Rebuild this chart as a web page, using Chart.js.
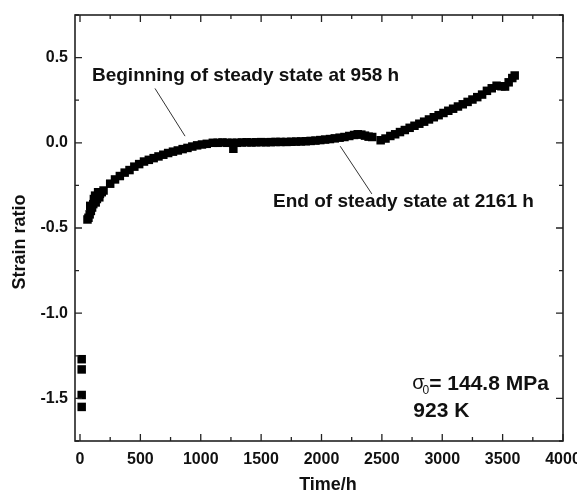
<!DOCTYPE html>
<html>
<head>
<meta charset="utf-8">
<script src="https://cdn.jsdelivr.net/npm/chart.js@4/dist/chart.umd.min.js"></script>
<style>
  html, body { margin: 0; padding: 0; background: #fff; }
  #wrap { width: 577px; height: 493px; }
</style>
</head>
<body>
<div id="wrap"><canvas id="creepChart" width="577" height="493"></canvas></div>
<script>
// 1. Messdaten: Zeit (h) und Dehnungsverhältnis
const hours = [
  14, 14, 14, 14,
  62, 70, 80, 85, 90, 100, 110, 115, 125, 130, 140, 150, 160, 165, 180, 195,
  250, 290, 330, 370, 410, 450, 490, 530, 570, 610, 650, 690, 730, 770, 810, 850, 890, 930, 970, 1010, 1050,
  1100, 1140, 1180, 1220, 1260, 1270, 1300, 1340, 1380, 1420, 1460, 1500, 1540, 1580, 1620, 1660,
  1710, 1750, 1790, 1830, 1870, 1910, 1950, 1990, 2030, 2070, 2110, 2150, 2190, 2230, 2270, 2300, 2330, 2360, 2390, 2420,
  2490, 2530, 2570, 2610, 2650, 2690, 2730, 2770, 2810, 2850, 2890, 2930, 2970, 3010, 3050, 3090, 3130, 3170, 3210,
  3250, 3290, 3330, 3370, 3410, 3450, 3490, 3520, 3550, 3580, 3600
];
const strainRatio = [
  -1.27, -1.33, -1.48, -1.55,
  -0.45, -0.44, -0.42, -0.37, -0.40, -0.38, -0.36, -0.33, -0.31, -0.35, -0.33, -0.29, -0.32, -0.30, -0.29, -0.28,
  -0.24, -0.215, -0.195, -0.175, -0.16, -0.14, -0.125, -0.11, -0.10, -0.09, -0.08, -0.07, -0.06, -0.052, -0.045, -0.037, -0.03, -0.022, -0.015, -0.01, -0.006,
  0.0, 0.0, 0.002, 0.0, 0.0, -0.035, 0.0, 0.002, 0.003, 0.002, 0.003, 0.004, 0.003, 0.004, 0.005, 0.005,
  0.005, 0.006, 0.007, 0.008, 0.009, 0.011, 0.013, 0.016, 0.019, 0.022, 0.026, 0.03, 0.034, 0.04, 0.046, 0.05, 0.048, 0.042, 0.036, 0.034,
  0.015, 0.025, 0.04, 0.05, 0.063, 0.075, 0.088, 0.10, 0.112, 0.124, 0.137, 0.15, 0.162, 0.175, 0.188, 0.20, 0.213, 0.226, 0.24,
  0.254, 0.268, 0.283, 0.305, 0.32, 0.335, 0.332, 0.33, 0.355, 0.38, 0.395
];

// Achsenbeschriftungen
const xTicks = [0, 500, 1000, 1500, 2000, 2500, 3000, 3500, 4000];
const yTicks = [-1.5, -1.0, -0.5, 0.0, 0.5];

const points = hours.map((h, i) => ({ x: h, y: strainRatio[i] }));

const FONT = 'Liberation Sans, Arial, sans-serif';
const tickFont = { family: FONT, size: 16, weight: 'bold' };

// 2. Rahmen mit nach innen zeigenden Teilstrichen, Achsentitel und Beschriftungen
const framePlugin = {
  id: 'framePlugin',
  afterDatasetsDraw(chart) {
    const { ctx, chartArea: a, scales: { x, y } } = chart;
    ctx.save();
    ctx.strokeStyle = '#222';
    ctx.lineWidth = 1.6;
    ctx.strokeRect(a.left, a.top, a.right - a.left, a.bottom - a.top);

    ctx.lineWidth = 1.3;
    ctx.beginPath();
    for (let t = 0; t <= 4000; t += 250) {
      const px = x.getPixelForValue(t);
      const len = t % 500 === 0 ? 7 : 4;
      ctx.moveTo(px, a.bottom); ctx.lineTo(px, a.bottom - len);
      ctx.moveTo(px, a.top); ctx.lineTo(px, a.top + len);
    }
    for (let v = -1.75; v <= 0.75; v += 0.25) {
      const py = y.getPixelForValue(v);
      const len = Math.abs(v * 2 - Math.round(v * 2)) < 1e-6 ? 7 : 4;
      ctx.moveTo(a.left, py); ctx.lineTo(a.left + len, py);
      ctx.moveTo(a.right, py); ctx.lineTo(a.right - len, py);
    }
    ctx.stroke();

    // Hinweislinien
    ctx.strokeStyle = '#333';
    ctx.lineWidth = 1;
    ctx.beginPath();
    ctx.moveTo(x.getPixelForValue(621), y.getPixelForValue(0.319));
    ctx.lineTo(x.getPixelForValue(870), y.getPixelForValue(0.039));
    ctx.moveTo(x.getPixelForValue(2155), y.getPixelForValue(-0.02));
    ctx.lineTo(x.getPixelForValue(2417), y.getPixelForValue(-0.30));
    ctx.stroke();

    ctx.fillStyle = '#111';
    ctx.textBaseline = 'middle';

    // Achsentitel
    ctx.font = 'bold 18px ' + FONT;
    ctx.textAlign = 'center';
    ctx.fillText('Time/h', 328, 485);
    ctx.save();
    ctx.translate(20, 242);
    ctx.rotate(-Math.PI / 2);
    ctx.fillText('Strain ratio', 0, 0);
    ctx.restore();

    // Texte im Diagramm
    ctx.textAlign = 'left';
    ctx.font = 'bold 19px ' + FONT;
    ctx.fillText('Beginning of steady state at 958 h', x.getPixelForValue(99), y.getPixelForValue(0.396));
    ctx.fillText('End of steady state at 2161 h', x.getPixelForValue(1599), y.getPixelForValue(-0.347));

    let sx = x.getPixelForValue(2751);
    const sy = y.getPixelForValue(-1.414);
    ctx.font = '20px ' + FONT;
    ctx.fillText('σ', sx, sy);
    sx += ctx.measureText('σ').width;
    ctx.font = '12px ' + FONT;
    ctx.fillText('0', sx - 2, sy + 7);
    sx += ctx.measureText('0').width - 2;
    ctx.font = 'bold 21px ' + FONT;
    ctx.fillText('= 144.8 MPa', sx, sy);
    ctx.fillText('923 K', x.getPixelForValue(2760), y.getPixelForValue(-1.576));
    ctx.restore();
  }
};

// 3. Konfiguration
const config = {
  type: 'scatter',
  data: {
    datasets: [{
      label: 'Strain ratio',
      data: points,
      pointStyle: 'rect',
      pointRadius: 6,
      pointHoverRadius: 6,
      backgroundColor: '#000',
      borderColor: '#000',
      borderWidth: 0
    }]
  },
  options: {
    responsive: false,
    animation: false,
    layout: { padding: { top: 15, right: 14, left: 0, bottom: 0 } },
    plugins: {
      legend: { display: false },
      tooltip: { enabled: false }
    },
    scales: {
      x: {
        type: 'linear',
        min: -41.4,
        max: 4000,
        grid: { display: false, drawTicks: false },
        border: { display: false },
        afterBuildTicks: s => { s.ticks = xTicks.map(v => ({ value: v })); },
        afterFit: s => { s.height = 52; s.paddingLeft = 0; s.paddingRight = 0; },
        ticks: {
          color: '#111',
          font: tickFont,
          padding: 9,
          maxRotation: 0,
          callback: v => String(v)
        }
      },
      y: {
        min: -1.75,
        max: 0.75,
        grid: { display: false, drawTicks: false },
        border: { display: false },
        afterBuildTicks: s => { s.ticks = yTicks.map(v => ({ value: v })); },
        afterFit: s => { s.width = 75; s.paddingTop = 0; s.paddingBottom = 0; },
        ticks: {
          color: '#111',
          font: tickFont,
          padding: 7,
          callback: v => v.toFixed(1)
        }
      }
    }
  },
  plugins: [framePlugin]
};

new Chart(document.getElementById('creepChart'), config);
</script>
</body>
</html>
